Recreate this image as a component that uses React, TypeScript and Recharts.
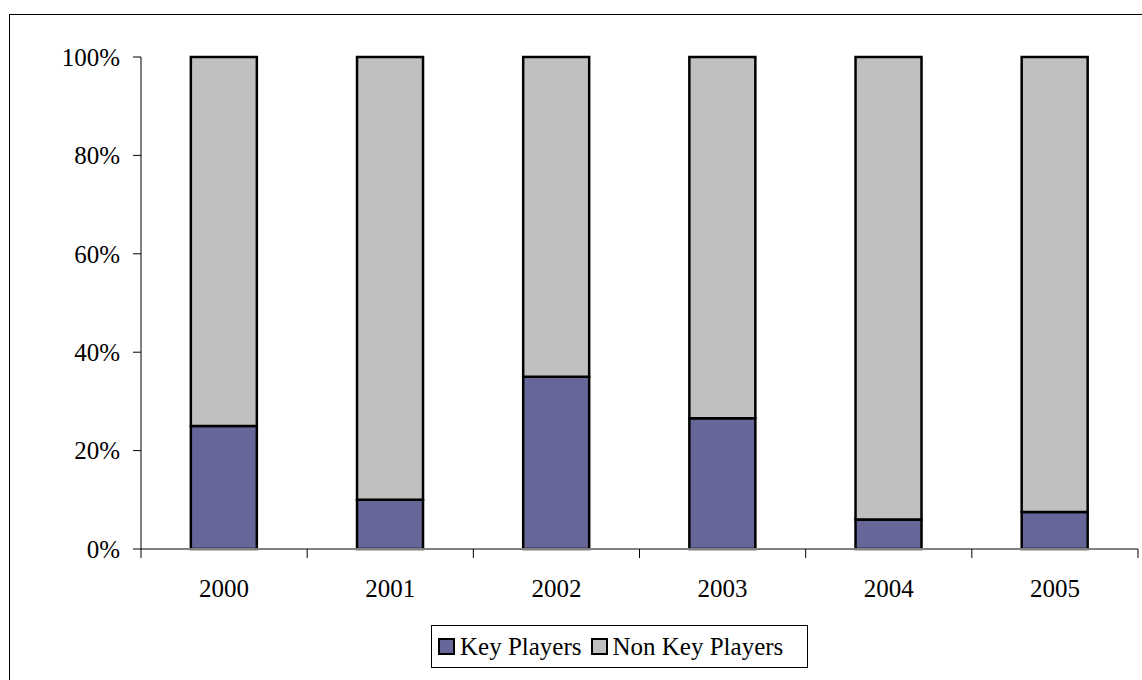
import React from 'react';
import { BarChart, Bar, XAxis, YAxis, Legend } from 'recharts';

const years = ['2000', '2001', '2002', '2003', '2004', '2005'];
const keyPlayers = [25, 10, 35, 26.6, 6, 7.5];
const nonKeyPlayers = [75, 90, 65, 73.4, 94, 92.5];
const yTicks = [0, 0.2, 0.4, 0.6, 0.8, 1];

const data = years.map((year, i) => ({
  year,
  key: keyPlayers[i],
  nonKey: nonKeyPlayers[i],
}));

const FONT = 'Liberation Serif';
const KEY_COLOR = '#666699';
const NON_KEY_COLOR = '#C0C0C0';

const LegendBox = () => (
  <div
    style={{
      boxSizing: 'border-box',
      width: 377,
      height: 43,
      border: '1px solid #000',
      display: 'flex',
      alignItems: 'center',
      paddingLeft: 6,
      fontFamily: FONT,
      fontSize: 25,
      color: '#000',
      whiteSpace: 'nowrap',
    }}
  >
    {[
      { label: 'Key Players', color: KEY_COLOR },
      { label: 'Non Key Players', color: NON_KEY_COLOR },
    ].map((item, i) => (
      <div key={item.label} style={{ display: 'flex', alignItems: 'center', marginLeft: i ? 9 : 0 }}>
        <span
          style={{
            display: 'inline-block',
            boxSizing: 'border-box',
            width: 17,
            height: 17,
            background: item.color,
            border: '2px solid #000',
            marginRight: 5,
          }}
        />
        <span>{item.label}</span>
      </div>
    ))}
  </div>
);

// year label with Excel-style tick marks on the category boundaries
const YearTick = (props: any) => {
  const { x, y, payload, index, visibleTicksCount } = props;
  const half = payload.offset || 0;
  const isLast = index === visibleTicksCount - 1;
  return (
    <g>
      <line x1={x - half} x2={x - half} y1={y} y2={y + 9} stroke="#000" strokeWidth={1} />
      {isLast && <line x1={x + half} x2={x + half} y1={y} y2={y + 9} stroke="#000" strokeWidth={1} />}
      <text x={x} y={y + 30} dy="0.71em" textAnchor="middle" fill="#000" fontSize={25} fontFamily={FONT}>
        {payload.value}
      </text>
    </g>
  );
};

export default function App() {
  return (
    <div style={{ position: 'absolute', left: 0, top: 0, width: 1142, height: 680, overflow: 'hidden', background: '#fff', fontFamily: FONT }}>
      {/* outer chart frame, right and bottom edges fall outside the picture */}
      <div
        style={{
          position: 'absolute',
          left: 9,
          top: 14,
          width: 1200,
          height: 700,
          border: '1px solid #000',
        }}
      />
      <BarChart
        width={1142}
        height={680}
        data={data}
        stackOffset="expand"
        barCategoryGap="30%"
        margin={{ top: 57, right: 4, left: 0, bottom: 101 }}
        style={{ position: 'absolute', left: 0, top: 0, fontFamily: FONT }}
      >
        <XAxis
          xAxisId="top"
          orientation="top"
          type="number"
          domain={[0, 6]}
          allowDataOverflow
          height={0}
          tick={false}
          tickLine={false}
          axisLine={{ stroke: '#808080', strokeWidth: 2 }}
        />
        <XAxis
          dataKey="year"
          axisLine={{ stroke: '#808080', strokeWidth: 2 }}
          tickLine={false}
          tickSize={0}
          tickMargin={0}
          interval={0}
          height={30}
          tick={<YearTick />}
        />
        <YAxis
          width={141}
          domain={[0, 1]}
          ticks={yTicks}
          interval={0}
          tickFormatter={(v: number) => `${Math.round(v * 100)}%`}
          axisLine={{ stroke: '#000', strokeWidth: 1 }}
          tickLine={{ stroke: '#000', strokeWidth: 1 }}
          tickSize={8}
          tickMargin={13}
          tick={{ fill: '#000', fontSize: 25, fontFamily: FONT }}
        />
        <YAxis
          yAxisId="right"
          orientation="right"
          width={0}
          tick={false}
          tickLine={false}
          axisLine={{ stroke: '#808080', strokeWidth: 2 }}
        />
        <Bar dataKey="key" stackId="a" fill={KEY_COLOR} stroke="#000" strokeWidth={2.5} isAnimationActive={false} />
        <Bar dataKey="nonKey" stackId="a" fill={NON_KEY_COLOR} stroke="#000" strokeWidth={2.5} isAnimationActive={false} />
        <Legend
          layout="horizontal"
          verticalAlign="middle"
          align="center"
          content={() => <LegendBox />}
          wrapperStyle={{ top: 625, left: 431, width: 377, height: 43 }}
        />
      </BarChart>
    </div>
  );
}
